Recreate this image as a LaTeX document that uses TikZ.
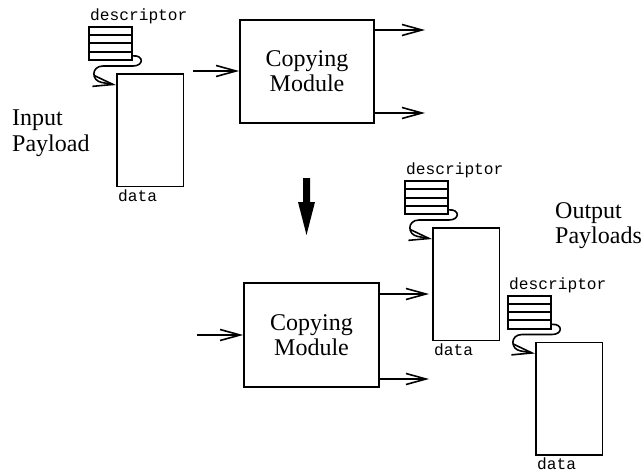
\documentclass[tikz,border=0pt]{standalone}
\usepackage{fontspec}
\setmainfont{Liberation Serif}
\setmonofont{Liberation Mono}
\usetikzlibrary{arrows.meta}
\tikzset{
  ln/.style={line width=1.6pt},
  barb/.style={-{Straight Barb[length=20pt,width=11pt]}},
  modbox/.style={draw, line width=1.8pt, minimum width=134pt, minimum height=103pt, inner sep=0pt, align=center, font=\fontsize{24}{25}\selectfont},
  databox/.style={draw, line width=1.8pt, minimum width=66.5pt, minimum height=112.5pt, inner sep=0pt, anchor=north west},
  stackrow/.style={draw, line width=2pt, minimum width=43pt, minimum height=8.25pt, inner sep=0pt, anchor=north west},
  monolbl/.style={font=\ttfamily\fontsize{16.2}{16.2}\selectfont, inner sep=0pt, anchor=base west},
  biglbl/.style={font=\fontsize{24}{25}\selectfont, inner sep=0pt, anchor=base west, align=left},
  payload/.pic={
    \node[databox] (-rect) at (0,0) {};
    \foreach \i in {0,1,2,3} \node[stackrow] (-row\i) at (-28,47-\i*8.25) {};
    \node[monolbl] (-desc) at (-26,52) {descriptor};
    \node[monolbl] (-data) at (2,-128) {data};
    \coordinate (-in) at (0,-12);
    \draw[ln, barb] (-row3.east) .. controls (28,18) and (28,7) .. (17,7) -- (-13,7)
      .. controls (-25,7) and (-25,-8) .. (-14,-9.5) -- (-in);
  }
}
\begin{document}
\begin{tikzpicture}[x=1pt,y=1pt]
\useasboundingbox (0,0) rectangle (644,-473);
% payloads
\pic (p1) at (116,-73) {payload};
\pic (p2) at (432,-227) {payload};
\pic (p3) at (535,-341.5) {payload};
% top module
\node[modbox] (m1) at (307,-71.5) {Copying\\Module};
\coordinate (m1in) at (193,-71);
\coordinate (m1o1) at (425,-30);
\coordinate (m1o2) at (425,-113);
\draw[ln, barb] (m1in) -- (m1in -| m1.west);
\draw[ln, barb] (m1o1 -| m1.east) -- (m1o1);
\draw[ln, barb] (m1o2 -| m1.east) -- (m1o2);
% bottom module
\node[modbox, minimum width=135pt, minimum height=104pt] (m2) at (311.5,-335) {Copying\\Module};
\coordinate (m2in) at (197,-335);
\coordinate (m2o1) at (429,-294);
\coordinate (m2o2) at (429,-379);
\draw[ln, barb] (m2in) -- (m2in -| m2.west);
\draw[ln, barb] (m2o1 -| m2.east) -- (m2o1);
\draw[ln, barb] (m2o2 -| m2.east) -- (m2o2);
% big down arrow
\fill (303,-178) -- (310,-178) -- (310,-202) -- (315,-202) -- (306.5,-235) -- (298,-202) -- (303,-202) -- cycle;
% labels
\node[biglbl] (inlbl) at (12,-151) {Input\\Payload};
\node[biglbl] (outlbl) at (555,-243) {Output\\Payloads};
\end{tikzpicture}
\end{document}
